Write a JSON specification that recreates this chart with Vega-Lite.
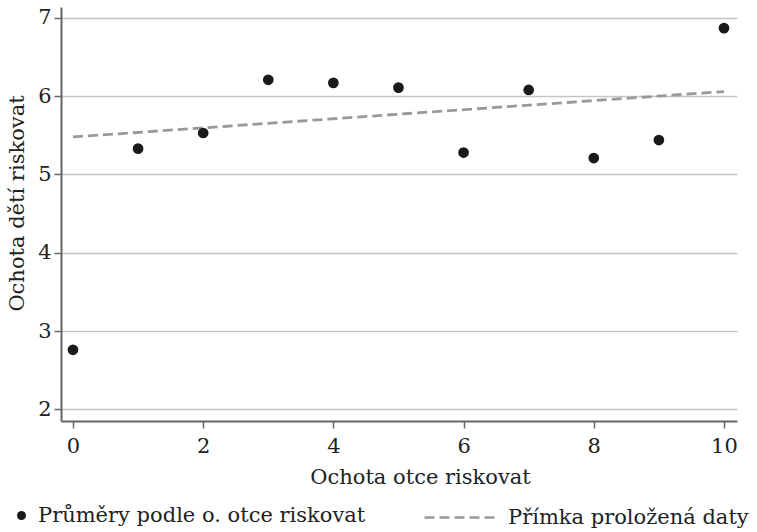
{
  "$schema": "https://vega.github.io/schema/vega-lite/v6.json",
  "autosize": "none",
  "width": 676,
  "height": 414,
  "padding": {"left": 61, "top": 7, "right": 20, "bottom": 111},
  "background": "white",
  "config": {
    "font": "DejaVu Serif",
    "view": {"stroke": null},
    "axis": {
      "labelFont": "DejaVu Serif",
      "titleFont": "DejaVu Serif",
      "labelFontSize": 21,
      "titleFontSize": 21,
      "labelColor": "#222",
      "titleColor": "#222",
      "titleFontWeight": "normal",
      "domainColor": "#666",
      "domainWidth": 2,
      "tickColor": "#666",
      "tickWidth": 1.5,
      "tickSize": 7,
      "gridColor": "#c4c4c4",
      "gridWidth": 1.5
    },
    "legend": {
      "labelFont": "DejaVu Serif",
      "labelFontSize": 21,
      "labelColor": "#222",
      "labelLimit": 0
    }
  },
  "datasets": {
    "means": [
      {"x": 0, "y": 2.76},
      {"x": 1, "y": 5.33},
      {"x": 2, "y": 5.53},
      {"x": 3, "y": 6.21},
      {"x": 4, "y": 6.17},
      {"x": 5, "y": 6.11},
      {"x": 6, "y": 5.28},
      {"x": 7, "y": 6.08},
      {"x": 8, "y": 5.21},
      {"x": 9, "y": 5.44},
      {"x": 10, "y": 6.87}
    ],
    "fit": [
      {"x": 0, "y": 5.48},
      {"x": 10, "y": 6.06}
    ]
  },
  "layer": [
    {
      "data": {"name": "fit"},
      "mark": {"type": "line", "color": "#999999", "strokeWidth": 2.8},
      "encoding": {
        "x": {
          "field": "x", "type": "quantitative",
          "scale": {"domain": [-0.184, 10.2], "nice": false, "zero": false},
          "axis": {"values": [0, 2, 4, 6, 8, 10], "format": "d", "grid": false, "title": "Ochota otce riskovat", "labelPadding": 7, "titleX": 359, "titleY": 62, "titleBaseline": "alphabetic"}
        },
        "y": {
          "field": "y", "type": "quantitative",
          "scale": {"domain": [1.85, 7.14], "nice": false, "zero": false},
          "axis": {"values": [2, 3, 4, 5, 6, 7], "format": "d", "grid": true, "title": "Ochota dětí riskovat", "labelPadding": 3, "titleX": -34, "titleY": 196}
        },
        "strokeDash": {
          "datum": "Přímka proložená daty",
          "type": "nominal",
          "scale": {"range": [[10, 5]]},
          "legend": {
            "title": null,
            "orient": "none",
            "legendX": 362,
            "legendY": 473,
            "symbolType": "stroke",
            "symbolSize": 5184,
            "symbolStrokeWidth": 2.5,
            "symbolStrokeColor": "#999999",
            "symbolDash": [10, 5.5],
            "labelOffset": 10
          }
        }
      }
    },
    {
      "data": {"name": "means"},
      "mark": {"type": "point", "filled": true, "color": "#1a1a1a", "size": 115, "opacity": 1},
      "encoding": {
        "x": {"field": "x", "type": "quantitative"},
        "y": {"field": "y", "type": "quantitative"},
        "shape": {
          "datum": "Průměry podle o. otce riskovat",
          "type": "nominal",
          "scale": {"range": ["circle"]},
          "legend": {
            "title": null,
            "orient": "none",
            "legendX": -50,
            "legendY": 498,
            "symbolSize": 80,
            "symbolFillColor": "#1a1a1a",
            "symbolStrokeColor": "#1a1a1a",
            "labelOffset": 6
          }
        }
      }
    }
  ]
}
